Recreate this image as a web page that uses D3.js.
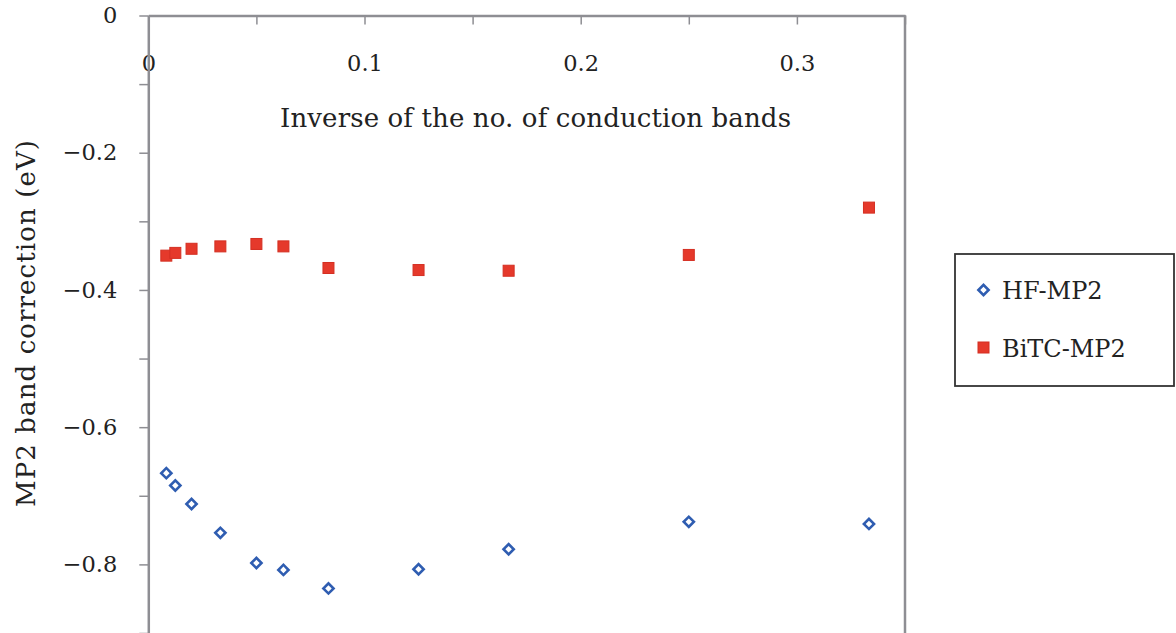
<!DOCTYPE html>
<html><head><meta charset="utf-8">
<script src="https://cdn.jsdelivr.net/npm/d3@7"></script>
<style>body{margin:0;background:#fff}svg{display:block}</style>
</head><body><svg id="c" width="1176" height="633"></svg>
<script>
// ---- data ----
const xValues = [1/120, 1/80, 1/50, 1/30, 1/20, 1/16, 1/12, 1/8, 1/6, 1/4, 1/3];
const hfMP2   = [-0.667, -0.685, -0.712, -0.754, -0.798, -0.808, -0.835, -0.807, -0.778, -0.738, -0.741];
const bitcMP2 = [-0.350, -0.346, -0.340, -0.3365, -0.333, -0.3365, -0.368, -0.371, -0.372, -0.349, -0.280];
const seriesNames = ["HF-MP2", "BiTC-MP2"];
const xTicks = [0, 0.05, 0.1, 0.15, 0.2, 0.25, 0.3, 0.35];
const xTickLabels = ["0", "", "0.1", "", "0.2", "", "0.3", ""];
const yTicks = [0, -0.1, -0.2, -0.3, -0.4, -0.5, -0.6, -0.7, -0.8, -0.9];
const yTickLabels = ["0", "", "\u22120.2", "", "\u22120.4", "", "\u22120.6", "", "\u22120.8", ""];
const xTitle = "Inverse of the no. of conduction bands";
const yTitle = "MP2 band correction (eV)";

// ---- layout ----
const FONT = "'DejaVu Serif', serif";
const axisColor = "#8e8e93";
const blue = "#2f5db1", red = "#e5392b", redStroke = "#d42f22";
const pL = 148.3, pR = 905, pT = 15.5, pB = 633;

const svg = d3.select("#c");
const x = d3.scaleLinear().domain([0, 0.35]).range([pL, pR]);
const y = d3.scaleLinear().domain([-0.9, 0]).range([pB, pT]);

// plot frame (right edge)
svg.append("line").attr("x1", pR).attr("x2", pR).attr("y1", pT).attr("y2", pB + 5)
  .attr("stroke", axisColor).attr("stroke-width", 2.5);

// x axis (at top, ticks pointing down, labels inside)
const gx = svg.append("g").attr("transform", `translate(0,${pT})`)
  .call(d3.axisBottom(x).tickValues(xTicks).tickSize(9).tickSizeOuter(0)
    .tickFormat((d, i) => xTickLabels[i]));
gx.select(".domain").attr("stroke", axisColor).attr("stroke-width", 2.5);
gx.selectAll(".tick line").attr("stroke", axisColor).attr("stroke-width", 1.5);
gx.selectAll(".tick text").attr("y", 47.5).attr("dy", "0.35em")
  .attr("font-family", FONT).attr("font-size", 22.5).attr("fill", "#222");

// y axis
const gy = svg.append("g").attr("transform", `translate(${pL},0)`)
  .call(d3.axisLeft(y).tickValues(yTicks).tickSize(9).tickSizeOuter(0).tickPadding(22)
    .tickFormat((d, i) => yTickLabels[i]));
gy.select(".domain").attr("stroke", axisColor).attr("stroke-width", 2.5);
gy.selectAll(".tick line").attr("stroke", axisColor).attr("stroke-width", 1.5);
gy.selectAll(".tick text").attr("font-family", FONT).attr("font-size", 22.5).attr("fill", "#222");

// titles
svg.append("text").attr("x", 535.5).attr("y", 127).attr("text-anchor", "middle")
  .attr("font-family", FONT).attr("font-size", 26).attr("fill", "#222")
  .attr("textLength", 511).attr("lengthAdjust", "spacing").text(xTitle);
svg.append("text").attr("transform", "translate(35,323.5) rotate(-90)").attr("text-anchor", "middle")
  .attr("font-family", FONT).attr("font-size", 26).attr("fill", "#222")
  .attr("textLength", 367).attr("lengthAdjust", "spacing").text(yTitle);

// markers
const diamond = d3.symbol().type(d3.symbolSquare).size(52);
svg.append("g").selectAll("path").data(xValues).join("path")
  .attr("d", diamond)
  .attr("transform", (d, i) => `translate(${x(d)},${y(hfMP2[i])}) rotate(45)`)
  .attr("fill", "#fff").attr("stroke", blue).attr("stroke-width", 2.6);

svg.append("g").selectAll("rect").data(xValues).join("rect")
  .attr("x", d => x(d) - 5.5).attr("y", (d, i) => y(bitcMP2[i]) - 5.5)
  .attr("width", 11).attr("height", 11)
  .attr("fill", red).attr("stroke", redStroke).attr("stroke-width", 1);

// legend
const lg = svg.append("g");
lg.append("rect").attr("x", 955).attr("y", 254).attr("width", 219).attr("height", 132)
  .attr("fill", "#fff").attr("stroke", "#333").attr("stroke-width", 1.8);
lg.append("path").attr("d", diamond).attr("transform", "translate(983.5,290) rotate(45)")
  .attr("fill", "#fff").attr("stroke", blue).attr("stroke-width", 2.6);
lg.append("rect").attr("x", 978).attr("y", 342).attr("width", 11).attr("height", 11)
  .attr("fill", red).attr("stroke", redStroke).attr("stroke-width", 1);
lg.selectAll("text").data(seriesNames).join("text")
  .attr("x", 1002).attr("y", (d, i) => i === 0 ? 299 : 357)
  .attr("font-family", FONT).attr("font-size", 24).attr("fill", "#222").text(d => d);
</script></body></html>
